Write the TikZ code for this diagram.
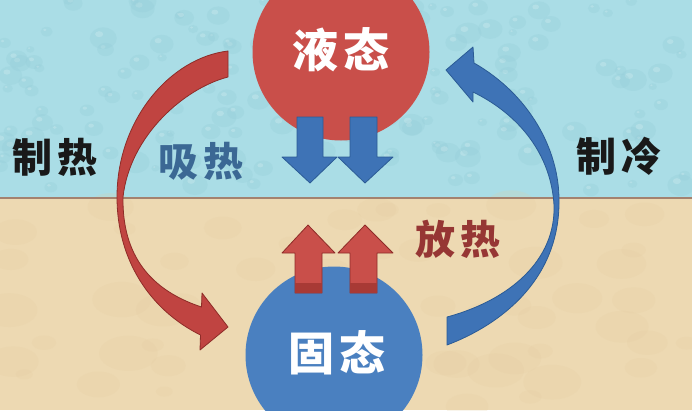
\documentclass[tikz,border=0pt]{standalone}
\usepackage{fontspec}
\newfontfamily\cjk{Noto Sans CJK SC}
\definecolor{sky}{HTML}{AADDE6}
\definecolor{skydark}{HTML}{95CDD8}
\definecolor{sand}{HTML}{EDD9B2}
\definecolor{sanddark}{HTML}{E3CB9F}
\definecolor{sepline}{HTML}{A4826F}
\definecolor{redc}{HTML}{C94F4A}
\definecolor{redarr}{HTML}{C04441}
\definecolor{redline}{HTML}{8E2C28}
\definecolor{redshade}{HTML}{A83A35}
\definecolor{bluec}{HTML}{4A80C0}
\definecolor{bluearr}{HTML}{3E73B6}
\definecolor{blueline}{HTML}{2B5B95}
\definecolor{labblue}{HTML}{3B6894}
\definecolor{labred}{HTML}{963634}
\tikzset{
  bigtext/.style={text=white, font=\cjk\bfseries\fontsize{46}{52}\selectfont, inner sep=0pt},
  labeltext/.style={font=\cjk\bfseries\fontsize{40}{46}\selectfont, inner sep=0pt},
  statecircle/.style={circle, minimum size=177pt, inner sep=0pt},
  redshape/.style={fill=redarr, draw=redline, line width=0.8pt, line join=round},
  blueshape/.style={fill=bluearr, draw=blueline, line width=0.8pt, line join=round},
  redblock/.style={fill=redc, draw=redline, line width=0.8pt, line join=round},
  blueblock/.style={fill=bluearr, draw=blueline, line width=0.8pt, line join=round},
}
\begin{document}
\begin{tikzpicture}[x=1pt,y=-1pt]
\useasboundingbox (0,0) rectangle (692,410);
\clip (0,0) rectangle (692,410);
% background
\fill[sky] (0,0) rectangle (692,198);
\fill[sand] (0,198) rectangle (692,410);
\pgfmathsetseed{11}
\foreach \i in {1,...,160}{
  \pgfmathsetmacro\dx{rnd*692}
  \pgfmathsetmacro\dy{rnd*190}
  \pgfmathsetmacro\rr{4+rnd*10}
  \fill[skydark, opacity=0.3] (\dx,\dy) ellipse [x radius=\rr pt, y radius=0.8*\rr pt];
  \fill[white, opacity=0.18] (\dx-0.3*\rr,\dy-0.3*\rr) ellipse [x radius=0.3*\rr pt, y radius=0.22*\rr pt];
}
\foreach \i in {1,...,60}{
  \pgfmathsetmacro\dx{rnd*692}
  \pgfmathsetmacro\dy{205+rnd*205}
  \pgfmathsetmacro\rr{8+rnd*22}
  \fill[sanddark, opacity=0.2] (\dx,\dy) ellipse [x radius=\rr pt, y radius=0.6*\rr pt];
}
\draw[sepline, line width=1.8pt] (0,198) -- (692,198);

% state circles
\node[statecircle, fill=redc] (liquid) at (341,52) {};
\node[statecircle, fill=bluec] (solid) at (334,355) {};

% blue down arrows (heat absorbed)
\filldraw[blueblock] (297,117) -- (323,117) -- (323,157) -- (337,157) -- (310,183) -- (282,157) -- (297,157) -- cycle;
\filldraw[blueblock] (350,117) -- (377,117) -- (377,157) -- (393,157) -- (365,183) -- (338,157) -- (350,157) -- cycle;

% red up arrows (heat released)
\filldraw[redblock] (295,293) -- (322,293) -- (322,253) -- (335,253) -- (308,225) -- (282,253) -- (295,253) -- cycle;
\filldraw[redblock] (350,293) -- (377,293) -- (377,253) -- (393,253) -- (365,225) -- (338,253) -- (350,253) -- cycle;
\fill[redshade] (295.4,283) rectangle (321.6,292.6);
\fill[redshade] (350.4,283) rectangle (376.6,292.6);

% red curved arrow (heating): liquid -> solid
\filldraw[redshape]
  (228,51) .. controls (170,58) and (117,120) .. (117,197)
  .. controls (117,260) and (150,310) .. (200.5,335)
  -- (200,350) -- (228,327) -- (202,293) -- (201.5,307)
  .. controls (150,290) and (122,255) .. (123,197)
  .. controls (130,135) and (185,88) .. (228,77) -- cycle;

% blue curved arrow (cooling): solid -> liquid
\filldraw[blueshape]
  (447,345) .. controls (500,325) and (560,280) .. (559,200)
  .. controls (559,150) and (530,95) .. (474,63)
  -- (473,47) -- (446,70) -- (473,102) -- (473,92)
  .. controls (520,115) and (551,155) .. (554,205)
  .. controls (556,260) and (510,300) .. (447,317) -- cycle;

% texts
\node[bigtext] (liquidtext) at (341,50) {液\hspace{5pt}态};
\node[bigtext] (solidtext) at (337,353) {固\hspace{5pt}态};
\node[labeltext, text=black!90] (heating) at (55,157) {制\hspace{5pt}热};
\node[labeltext, text=labblue] (absorb) at (201,161) {吸\hspace{5pt}热};
\node[labeltext, text=black!90] (cooling) at (619,156) {制\hspace{5pt}冷};
\node[labeltext, text=labred] (release) at (458,239) {放\hspace{5pt}热};
\end{tikzpicture}
\end{document}
